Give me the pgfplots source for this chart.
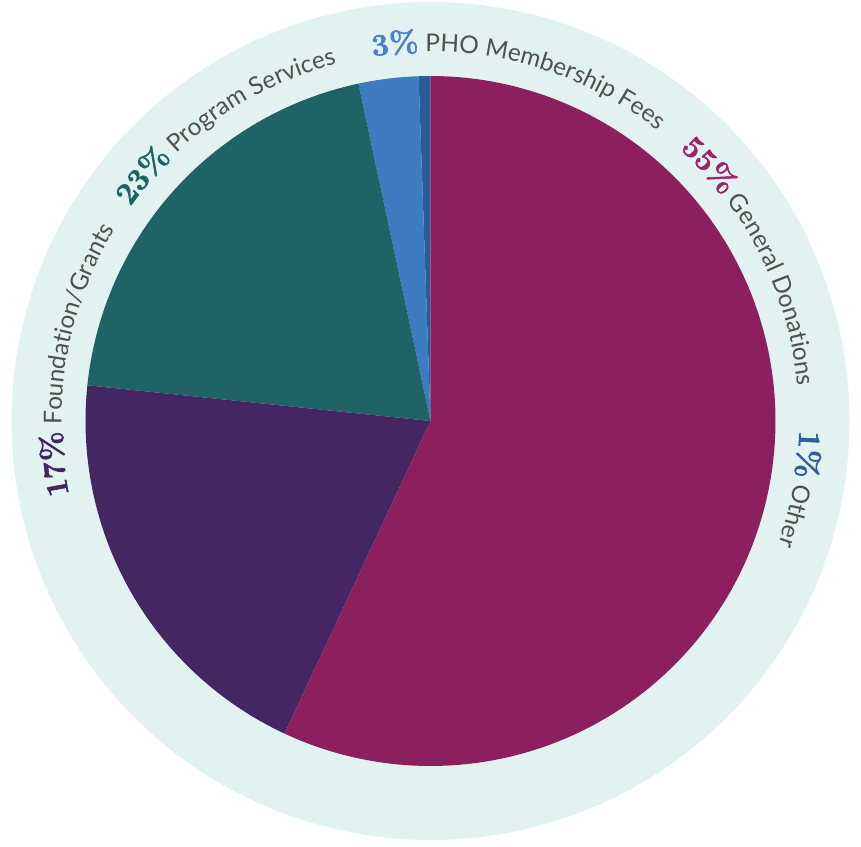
\documentclass[border=0pt]{standalone}
\usepackage{pgfplots}
\pgfplotsset{compat=1.18}
\usepackage{pgfplotstable}
\usepackage{fontspec}
\setsansfont{Lato}
\newfontfamily\pctfont[FakeBold=1.8]{Latin Modern Roman}
\usetikzlibrary{decorations.text}

\definecolor{bgc}{HTML}{E1F2F1}
\definecolor{cGen}{HTML}{8C1F5E}
\definecolor{cFound}{HTML}{442662}
\definecolor{cProg}{HTML}{1F6366}
\definecolor{cPHO}{HTML}{3F7BC0}
\definecolor{cOther}{HTML}{2B5C99}
\definecolor{tGen}{HTML}{9B2468}
\definecolor{tFound}{HTML}{432563}
\definecolor{tProg}{HTML}{1F6366}
\definecolor{tPHO}{HTML}{4A80C8}
\definecolor{tOther}{HTML}{2E5E9E}
\definecolor{tgray}{HTML}{505050}

% slice shares (%), counter-clockwise from the top
\pgfplotstableread{
name share
Other 0.55
PHO 2.8
Program 20.0
Foundation 19.7
General 56.95
}\piedata

\newcommand{\pct}[1]{\fontsize{15.5}{15.5}\selectfont\pctfont\bfseries\color{#1}}
\newcommand{\nm}{\fontsize{12.2}{12.2}\selectfont\sffamily\mdseries\color{tgray}}

\begin{document}
\begin{tikzpicture}
\pgfplotstablegetelem{0}{share}\of\piedata \pgfmathsetmacro\sA{\pgfplotsretval}
\pgfplotstablegetelem{1}{share}\of\piedata \pgfmathsetmacro\sB{\pgfplotsretval}
\pgfplotstablegetelem{2}{share}\of\piedata \pgfmathsetmacro\sC{\pgfplotsretval}
\pgfplotstablegetelem{3}{share}\of\piedata \pgfmathsetmacro\sD{\pgfplotsretval}
\pgfplotstablegetelem{4}{share}\of\piedata \pgfmathsetmacro\sE{\pgfplotsretval}
\pgfmathsetmacro\aA{90}
\pgfmathsetmacro\aB{\aA+3.6*\sA}
\pgfmathsetmacro\aC{\aB+3.6*\sB}
\pgfmathsetmacro\aD{\aC+3.6*\sC}
\pgfmathsetmacro\aE{\aD+3.6*\sD}
\pgfmathsetmacro\aF{\aE+3.6*\sE}
\begin{axis}[x=0.5pt, y=0.5pt, xmin=-430.5, xmax=430.5, ymin=-425, ymax=421,
  hide axis, clip=false]
\path (rel axis cs:0,0) rectangle (rel axis cs:1,1);
\addplot[draw=none, fill=bgc, domain=0:360, samples=240, variable=\t]
  ({419*cos(\t)},{419*sin(\t)}) -- cycle;
\addplot[draw=none, fill=cOther, domain=\aA:\aB, samples=10, variable=\t]
  ({345*cos(\t)},{345*sin(\t)}) -- (axis cs:0,0) -- cycle;
\addplot[draw=none, fill=cPHO, domain=\aB:\aC, samples=20, variable=\t]
  ({345*cos(\t)},{345*sin(\t)}) -- (axis cs:0,0) -- cycle;
\addplot[draw=none, fill=cProg, domain=\aC:\aD, samples=80, variable=\t]
  ({345*cos(\t)},{345*sin(\t)}) -- (axis cs:0,0) -- cycle;
\addplot[draw=none, fill=cFound, domain=\aD:\aE, samples=80, variable=\t]
  ({345*cos(\t)},{345*sin(\t)}) -- (axis cs:0,0) -- cycle;
\addplot[draw=none, fill=cGen, domain=\aE:\aF, samples=200, variable=\t]
  ({345*cos(\t)},{345*sin(\t)}) -- (axis cs:0,0) -- cycle;
\coordinate (O) at (axis cs:0,0);
\end{axis}
\def\R{184.5pt}
\path[decorate, decoration={text along path, text align=left,
  text={|\pct{tPHO}|3{\%}|\nm| PHO Membership Fees}}]
  ([shift={(O)}]99:\R) arc[start angle=99, end angle=30, radius=\R];
\path[decorate, decoration={text along path, text align=left,
  text={|\pct{tGen}|55{\%}|\nm| General Donations}}]
  ([shift={(O)}]47.5:\R) arc[start angle=47.5, end angle=-20, radius=\R];
\path[decorate, decoration={text along path, text align=left,
  text={|\pct{tOther}|1{\%}|\nm| Other}}]
  ([shift={(O)}]-1.5:\R) arc[start angle=-1.5, end angle=-40, radius=\R];
\path[decorate, decoration={text along path, text align=left,
  text={|\pct{tFound}|17{\%}|\nm| Foundation/Grants}}]
  ([shift={(O)}]191.5:\R) arc[start angle=191.5, end angle=140, radius=\R];
\path[decorate, decoration={text along path, text align=left,
  text={|\pct{tProg}|23{\%}|\nm| Program Services}}]
  ([shift={(O)}]144.5:\R) arc[start angle=144.5, end angle=95, radius=\R];
\end{tikzpicture}
\end{document}
